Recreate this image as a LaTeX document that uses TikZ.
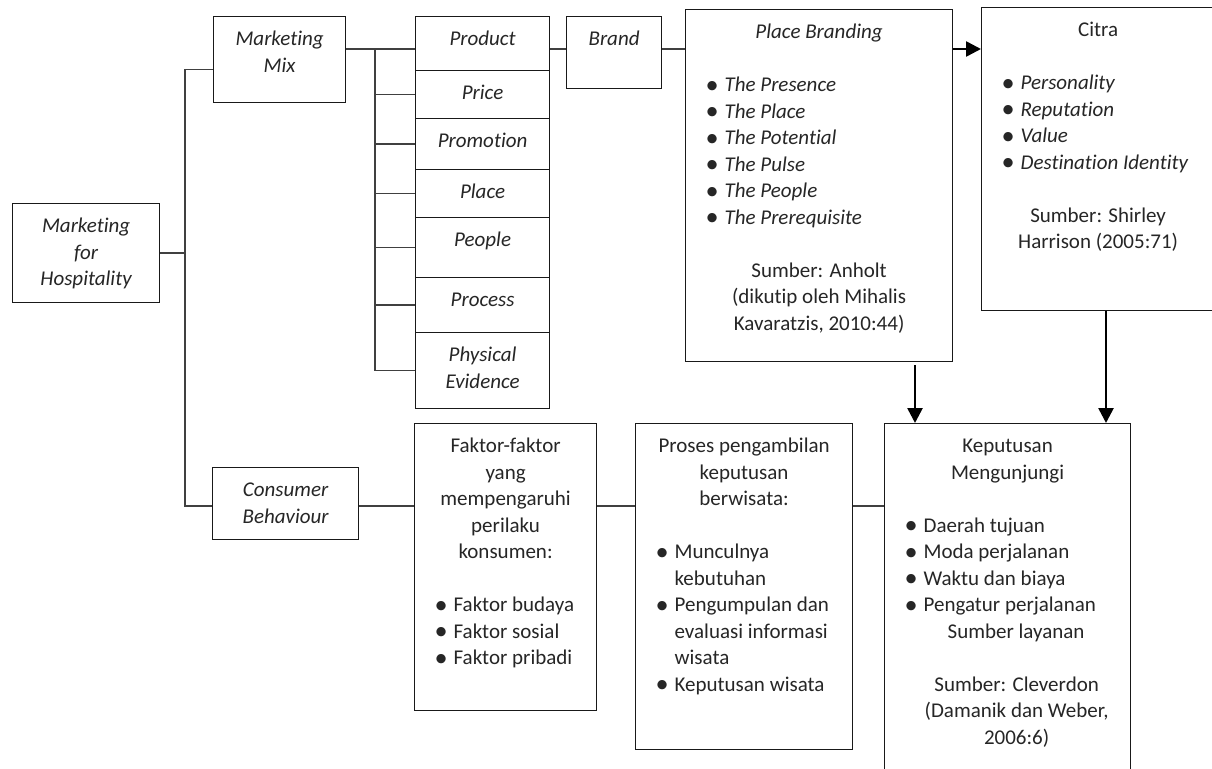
\documentclass[tikz,border=0pt]{standalone}
\usepackage{fontspec}
\setmainfont[Ligatures={NoCommon,NoContextual}]{Carlito}
\usetikzlibrary{arrows.meta}

\newcommand{\boxtext}[3]{\parbox[c][#2][t]{#1}{\centering\rule{0pt}{29pt}#3}}
\newenvironment{blist}{\par\raggedright\leftskip=39pt\relax}{\par}
\newcommand{\bul}{\par\hspace*{-19pt}\makebox[19pt][l]{\upshape\raisebox{-0.09em}{\scalebox{1.25}{\textbullet}}}}
\newcommand{\gap}{\par\vspace{26.5pt}}

\begin{document}
\begin{tikzpicture}[x=1pt, y=-1pt,
    font=\fontsize{21}{26.5}\selectfont,
    box/.style={draw=black!90, line width=1.2pt, inner sep=0pt,
                anchor=north west, text=black!85},
    link/.style={draw=black!75, line width=1.3pt},
    arrow/.style={draw=black, line width=2.6pt,
                  -{Triangle[length=15pt, width=15pt]}}]
    \path[use as bounding box, fill=white] (0,0) rectangle (1212,768);
    \clip (0,0) rectangle (1212,768);

    % Add the boxes
        \node[box] (hosp) at (12,203)
              {\boxtext{147pt}{99pt}{\itshape Marketing\\for\\Hospitality}};
        \node[box] (mix) at (213,16)
              {\boxtext{132pt}{86pt}{\itshape Marketing\\Mix}};
        \foreach \n/\y/\h/\t in {product/16/54/Product, price/70/48/Price,
                 promotion/118/51/Promotion, place/169/48/Place,
                 people/217/60/People, process/277/55/Process,
                 physical/332/76/{Physical\\Evidence}}
            \node[box] (\n) at (415,\y) {\boxtext{134pt}{\h pt}{\itshape\t}};
        \node[box] (brand) at (566,16)
              {\boxtext{95pt}{72pt}{\itshape Brand}};
        \node[box] (branding) at (685,9)
              {\boxtext{267pt}{352pt}{\itshape Place Branding\gap
               \begin{blist}\bul The Presence\bul The Place\bul The Potential
               \bul The Pulse\bul The People\bul The Prerequisite\end{blist}
               \gap\upshape Sumber: Anholt\\(dikutip oleh Mihalis\\Kavaratzis, 2010:44)}};
        \node[box] (citra) at (981,7)
              {\boxtext{233pt}{303pt}{Citra\gap
               \begin{blist}\itshape\bul Personality\bul Reputation\bul Value
               \bul Destination Identity\end{blist}
               \gap Sumber: Shirley\\Harrison (2005:71)}};
        \node[box] (behaviour) at (212,467)
              {\boxtext{146pt}{72pt}{\itshape Consumer\\Behaviour}};
        \node[box] (factors) at (414,423)
              {\boxtext{182pt}{287pt}{Faktor-faktor\\yang\\mempengaruhi\\perilaku\\konsumen:\gap
               \begin{blist}\bul Faktor budaya\bul Faktor sosial\bul Faktor pribadi\end{blist}}};
        \node[box] (travel) at (635,423)
              {\boxtext{217pt}{326pt}{Proses pengambilan\\keputusan\\berwisata:\gap
               \begin{blist}\bul Munculnya\\kebutuhan\bul Pengumpulan dan\\evaluasi informasi\\wisata
               \bul Keputusan wisata\end{blist}}};
        \node[box] (visit) at (884,423)
              {\boxtext{246pt}{360pt}{Keputusan\\Mengunjungi\gap
               \begin{blist}\bul Daerah tujuan\bul Moda perjalanan\bul Waktu dan biaya
               \bul Pengatur perjalanan\\\hspace*{24pt}Sumber layanan\end{blist}
               \gap{\leftskip=18pt plus 1fil Sumber: Cleverdon\\(Damanik dan Weber,\\2006:6)\par}}};

    % Add the connectors
        \coordinate (trunk) at (185,0);
        \coordinate (bar) at (375,0);
        \coordinate (row) at (0,49);
        \coordinate (row2) at (0,506);
        \coordinate (drop1) at ([xshift=31pt]visit.north west);
        \coordinate (drop2) at ([xshift=222pt]visit.north west);

        \draw[link] (hosp.east) -- (hosp.east -| trunk);
        \draw[link] ([yshift=-10pt]mix.west) -| (trunk |- row2) -- (behaviour.west |- row2);
        \draw[link] (mix.east |- row) -- (product.west |- row);
        \draw[link] (bar |- row) -- (bar |- physical.west);
        \foreach \n in {price, promotion, place, people, process, physical}
            \draw[link] (bar |- \n.west) -- (\n.west);
        \draw[link] (product.east |- row) -- (brand.west |- row);
        \draw[link] (brand.east |- row) -- (branding.west |- row);
        \draw[link] (behaviour.east |- row2) -- (factors.west |- row2);
        \draw[link] (factors.east |- row2) -- (travel.west |- row2);
        \draw[link] (travel.east |- row2) -- (visit.west |- row2);

        \draw[arrow] (branding.east |- row) -- (citra.west |- row);
        \draw[arrow, shorten <=3pt] (drop1 |- branding.south) -- (drop1);
        \draw[arrow] (drop2 |- citra.south) -- (drop2);
\end{tikzpicture}
\end{document}
